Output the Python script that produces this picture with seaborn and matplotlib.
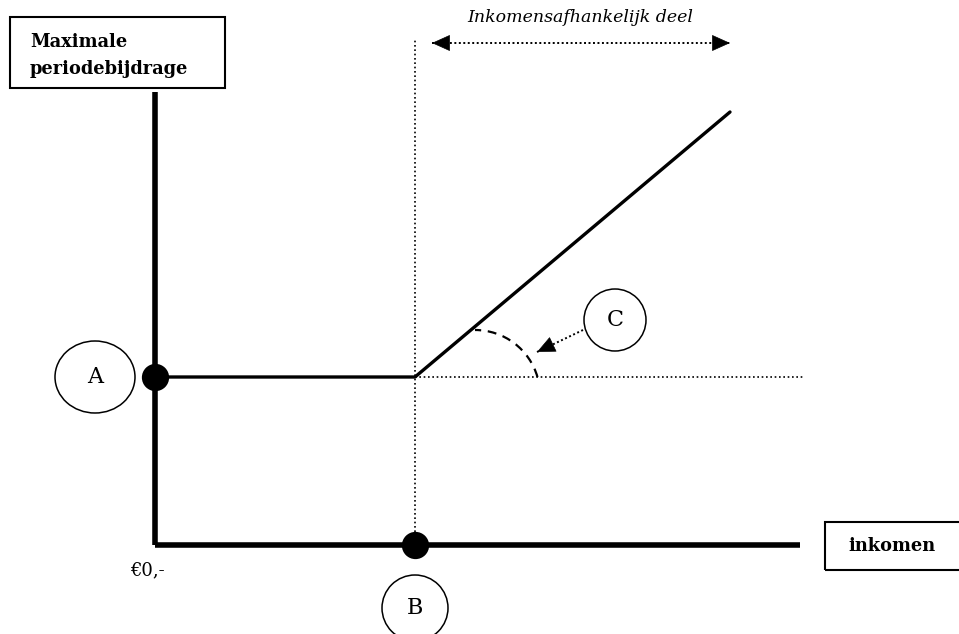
import matplotlib
matplotlib.use("Agg")
import matplotlib.pyplot as plt
import seaborn as sns
import pandas as pd
from matplotlib.patches import Ellipse, Arc, Rectangle

# schematic values (income on x, max contribution on y)
threshold = 260          # point B: income where the income-dependent part starts
base_amount = 168        # point A: fixed maximum contribution
curve_x = [0, 260, 575]
curve_y = [168, 168, 433]
axis_x_end = 645
axis_y_end = 453

sns.set_theme(style="white")
plt.rcParams['font.family'] = ['DejaVu Serif']
plt.rcParams['text.color'] = 'black'

fig = plt.figure(figsize=(9.59, 6.34), dpi=100)
ax = fig.add_axes([0, 0, 1, 1])
ax.set_xlim(-155, 804)
ax.set_ylim(-89, 545)
ax.axis('off')

dots = (0, (1, 1.6))

# axes of the diagram
ax.plot([0, 0], [0, axis_y_end], color='black', lw=4, solid_capstyle='butt')
ax.plot([0, axis_x_end], [0, 0], color='black', lw=4, solid_capstyle='butt')

# helper lines
ax.plot([threshold, threshold], [0, 505], color='black', lw=1.2, ls=dots)
ax.plot([threshold, 650], [base_amount, base_amount], color='black', lw=1.2, ls=dots)

# the contribution curve
df = pd.DataFrame({'inkomen': curve_x, 'bijdrage': curve_y})
sns.lineplot(data=df, x='inkomen', y='bijdrage', ax=ax, color='black', lw=2.4, sort=False)
ax.set_xlabel('')
ax.set_ylabel('')

# points A and B
pts = pd.DataFrame({'x': [0, threshold], 'y': [base_amount, 0]})
sns.scatterplot(data=pts, x='x', y='y', ax=ax, color='black', s=330, zorder=5, edgecolor='black')
ax.set_xlabel('')
ax.set_ylabel('')

# label circles
for (cx, cy, w, h, lab) in [(-60, base_amount, 80, 72, 'A'),
                            (threshold, -63, 66, 66, 'B'),
                            (460, 225, 62, 62, 'C')]:
    ax.add_patch(Ellipse((cx, cy), w, h, fill=False, ec='black', lw=1.1))
    ax.text(cx, cy, lab, ha='center', va='center', fontsize=16, color='black')


def dotted_arrow(tail, tip, both=False):
    # dotted shaft with solid filled heads
    ax.plot([tail[0], tip[0]], [tail[1], tip[1]], color='black', lw=1.4, ls=(0, (1, 1.3)))
    ends = [(tail, tip)] + ([(tip, tail)] if both else [])
    for a, b in ends:
        dx, dy = b[0] - a[0], b[1] - a[1]
        n = (dx ** 2 + dy ** 2) ** 0.5
        back = (b[0] - dx / n * 2, b[1] - dy / n * 2)
        ax.annotate('', xy=b, xytext=back,
                    arrowprops=dict(arrowstyle='-|>,head_length=0.6,head_width=0.27',
                                    color='black', lw=0.5, mutation_scale=20,
                                    shrinkA=0, shrinkB=0))


# angle arc
ax.add_patch(Arc((320, 150), 130, 130, theta1=16, theta2=90, ec='black', lw=1.6, ls=(0, (4, 3))))
dotted_arrow((428, 215), (382, 193))

# income dependent part
dotted_arrow((277, 502), (575, 502), both=True)
ax.text(425, 528, 'Inkomensafhankelijk deel', ha='center', va='center',
        fontsize=12.5, style='italic', color='black')

# boxes
ax.add_patch(Rectangle((-145, 457), 215, 71, fill=False, ec='black', lw=1.5))
ax.text(-125, 503, 'Maximale', ha='left', va='center', fontsize=12.8, fontweight='bold', color='black')
ax.text(-125, 476, 'periodebijdrage', ha='left', va='center', fontsize=12.8, fontweight='bold', color='black')

ax.add_patch(Rectangle((670, -25), 150, 48, fill=False, ec='black', lw=1.5, clip_on=False))
ax.text(693, -1, 'inkomen', ha='left', va='center', fontsize=12.8, fontweight='bold', color='black')

ax.text(-25, -25, '€0,-', ha='left', va='center', fontsize=13, color='black')

fig.savefig('out.png', dpi=100)
